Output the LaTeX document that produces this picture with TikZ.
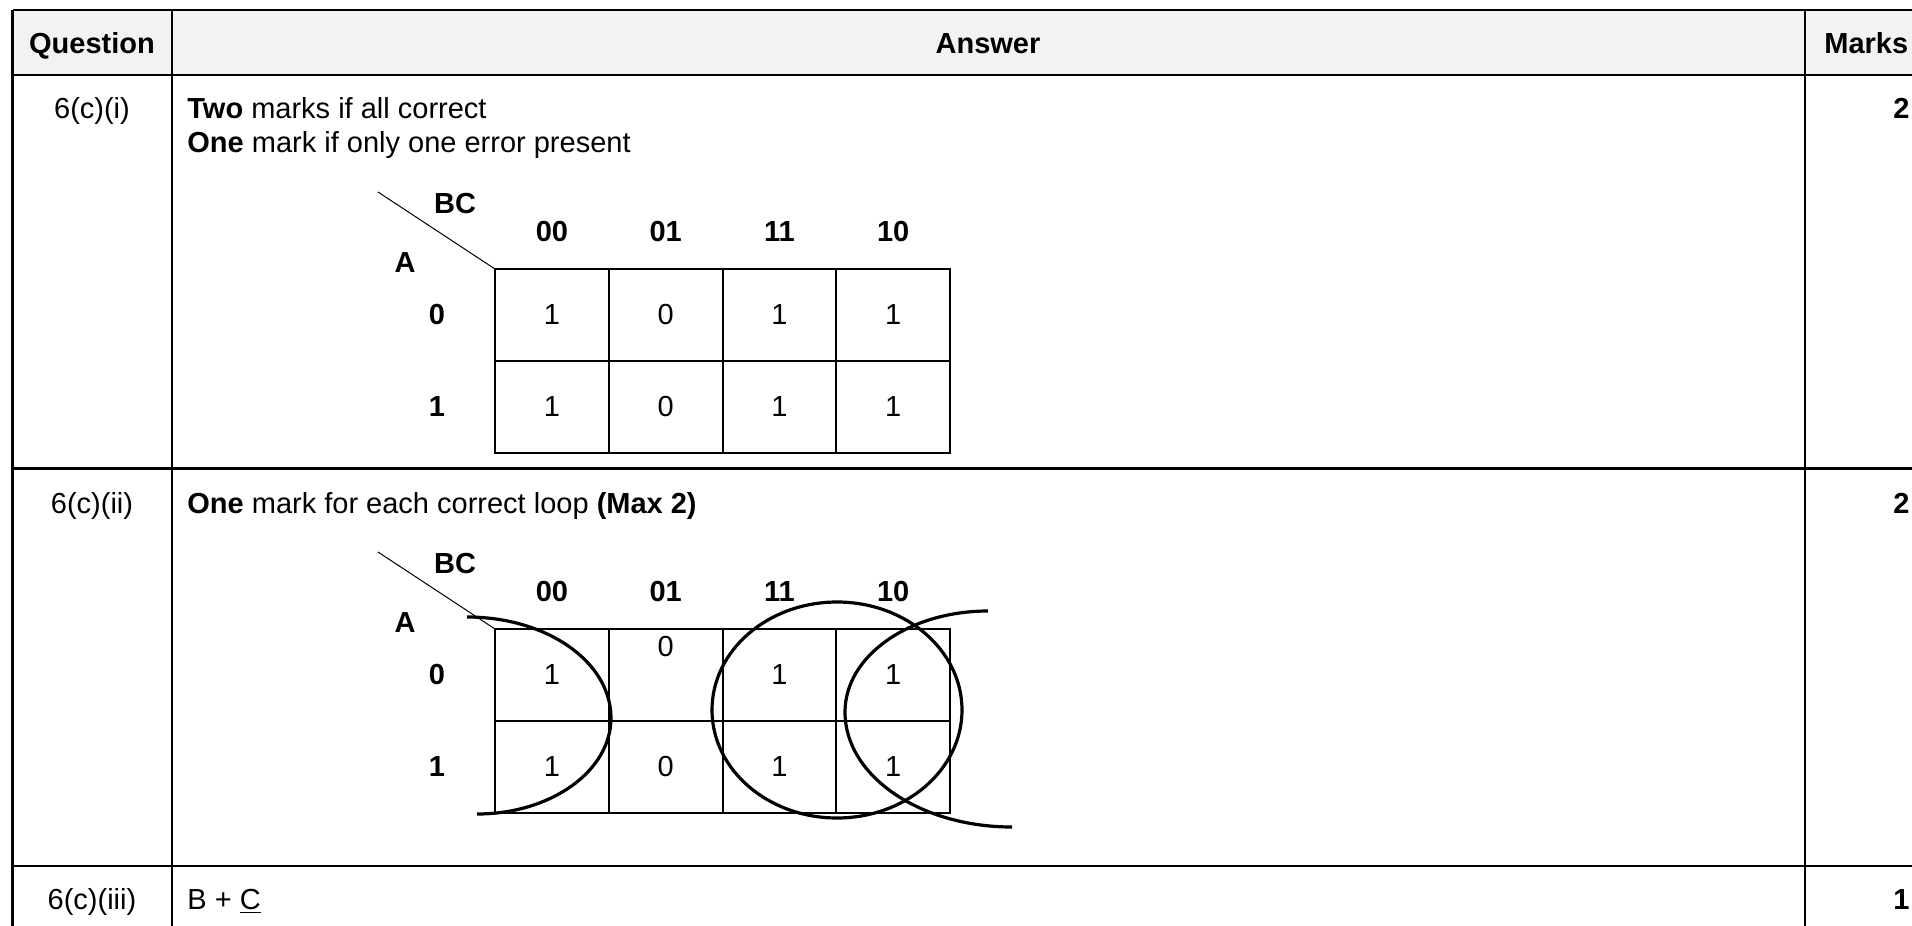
\documentclass[tikz,border=0pt]{standalone}
\usepackage{fontspec}
\setmainfont{Liberation Sans}
\definecolor{headgrey}{RGB}{242,242,242}
\tikzset{
    every node/.style={inner sep=0pt},
    txt/.style={font=\fontsize{14.5}{17}\selectfont},
    btxt/.style={font=\fontsize{14.5}{17}\selectfont\bfseries},
    rule/.style={line width=1.3pt},
    kgrid/.style={line width=1pt},
    ring/.style={line width=1.6pt},
}
\begin{document}
\begin{tikzpicture}[x=0.5pt, y=-0.5pt]
    \useasboundingbox (0,0) rectangle (1912,926);

    % Header row
    \fill[headgrey] (12.5,10) rectangle (1912,75);
    \node[btxt, anchor=base] (hq) at (92,53.5) {Question};
    \node[btxt, anchor=base] (ha) at (988,53.5) {Answer};
    \node[btxt, anchor=base west] (hm) at (1824,53.5) {Marks};

    % Table rules
    \foreach \y in {10,75,468.5,866}
        \draw[rule] (12.5,\y) -- (1912,\y);
    \foreach \x in {12.5,172,1805}
        \draw[rule] (\x,10) -- (\x,926);

    % Row 6(c)(i)
    \node[txt, anchor=base] (q1) at (92,118) {6(c)(i)};
    \node[txt, anchor=base west] (a1) at (187,118) {\textbf{Two} marks if all correct};
    \node[txt, anchor=base west] (a1b) at (187,152) {\textbf{One} mark if only one error present};
    \node[btxt, anchor=base east] (m1) at (1910,118) {2};

    % Row 6(c)(ii)
    \node[txt, anchor=base] (q2) at (92,513) {6(c)(ii)};
    \node[txt, anchor=base west] (a2) at (187,513) {\textbf{One} mark for each correct loop \textbf{(Max 2)}};
    \node[btxt, anchor=base east] (m2) at (1910,513) {2};

    % Row 6(c)(iii)
    \node[txt, anchor=base] (q3) at (92,909) {6(c)(iii)};
    \node[txt, anchor=base west] (a3) at (187,909) {B + \underline{C}};
    \node[btxt, anchor=base east] (m3) at (1910,909) {1};

    % Karnaugh maps: grid and labels
    \foreach \k/\oy in {1/269,2/629} {
        \draw[kgrid] (495,\oy) rectangle (950,\oy+184);
        \draw[kgrid] (495,\oy+92) -- (950,\oy+92);
        \foreach \c in {1,2,3}
            \draw[kgrid] (495+113.75*\c,\oy) -- (495+113.75*\c,\oy+184);
        \draw[line width=0.5pt] (378,\oy-77) -- (495,\oy);
        \node[btxt] (bc\k) at (455,\oy-65) {BC};
        \node[btxt] (a\k) at (405,\oy-6) {A};
        \foreach \c/\t in {0/00,1/01,2/11,3/10}
            \node[btxt] (col\k-\c) at (551.875+113.75*\c,\oy-37) {\t};
        \node[btxt] (row\k-0) at (437,\oy+46) {0};
        \node[btxt] (row\k-1) at (437,\oy+138) {1};
    }

    % Cell values, first map
    \foreach \c/\v in {0/1,1/0,2/1,3/1} {
        \node[txt] (p0-\c) at (551.875+113.75*\c,315) {\v};
        \node[txt] (p1-\c) at (551.875+113.75*\c,407) {\v};
    }

    % Cell values, second map
    \node[txt] (s0-0) at (551.875,675) {1};
    \node[txt] (s0-1) at (665.625,647) {0};
    \node[txt] (s0-2) at (779.375,675) {1};
    \node[txt] (s0-3) at (893.125,675) {1};
    \foreach \c/\v in {0/1,1/0,2/1,3/1}
        \node[txt] (s1-\c) at (551.875+113.75*\c,767) {\v};

    % Loops
    \draw[ring] (467,617) .. controls (547,617) and (611,662) .. (611,718)
        .. controls (611,771) and (551,814) .. (477,814);
    \draw[ring] (837,710) ellipse [x radius=62.5pt, y radius=54pt];
    \draw[ring] (988,611) .. controls (909,611) and (845,656) .. (845,712)
        .. controls (845,776) and (920,827) .. (1012,827);
\end{tikzpicture}
\end{document}
